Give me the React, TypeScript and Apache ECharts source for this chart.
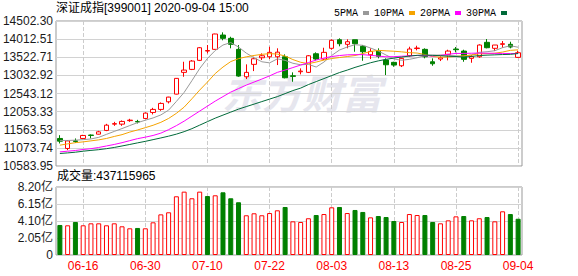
import React, { useEffect, useRef } from 'react';
import * as echarts from 'echarts';

const title = '深证成指[399001] 2020-09-04 15:00';
const volumeTitle = '成交量:437115965';
const watermark = '东方财富';
const maNames = ['5PMA', '10PMA', '20PMA', '30PMA'];

const dates = [
  '06-11', '06-12', '06-15', '06-16', '06-17', '06-18', '06-19', '06-22', '06-23', '06-24',
  '06-29', '06-30', '07-01', '07-02', '07-03', '07-06', '07-07', '07-08', '07-09', '07-10',
  '07-13', '07-14', '07-15', '07-16', '07-17', '07-20', '07-21', '07-22', '07-23', '07-24',
  '07-27', '07-28', '07-29', '07-30', '07-31', '08-03', '08-04', '08-05', '08-06', '08-07',
  '08-10', '08-11', '08-12', '08-13', '08-14', '08-17', '08-18', '08-19', '08-20', '08-21',
  '08-24', '08-25', '08-26', '08-27', '08-28', '08-31', '09-01', '09-02', '09-03', '09-04',
];

const opens = [
  11328, 11058, 11263, 11328, 11420, 11444, 11545, 11715, 11715, 11810,
  11788, 11869, 12031, 12113, 12319, 12527, 13114, 13195, 13439, 13690,
  13736, 14123, 14034, 13736, 12995, 13331, 13509, 13536, 13536, 13536,
  13022, 13131, 13114, 13617, 13474, 13764, 13996, 13872, 13996, 13818,
  13590, 13690, 13447, 13385, 13293, 13563, 13758, 13736, 13401, 13474,
  13601, 13745, 13690, 13493, 13536, 13926, 13764, 13872, 13872, 13520,
];
const closes = [
  11255, 11262, 11247, 11409, 11410, 11507, 11688, 11729, 11788, 11823,
  11774, 12013, 12113, 12275, 12446, 12952, 13176, 13420, 13780, 13704,
  14151, 14034, 13872, 13014, 13114, 13482, 13563, 13655, 13660, 12968,
  13006, 13149, 13563, 13474, 13655, 13980, 13888, 13942, 13888, 13672,
  13680, 13547, 13320, 13312, 13493, 13745, 13772, 13536, 13347, 13509,
  13690, 13726, 13466, 13536, 13853, 13780, 13853, 13888, 13799, 13645,
];
const lows = [
  11193, 11012, 11209, 11317, 11328, 11436, 11526, 11669, 11669, 11777,
  11734, 11851, 11978, 12075, 12275, 12519, 12995, 13176, 13420, 13628,
  13726, 13980, 13764, 12995, 12933, 13149, 13447, 13474, 13312, 12952,
  12860, 13060, 13096, 13439, 13447, 13726, 13818, 13764, 13672, 13428,
  13474, 13493, 13041, 13266, 13258, 13536, 13709, 13493, 13293, 13420,
  13439, 13655, 13401, 13374, 13509, 13764, 13690, 13780, 13764, 13509,
];
const highs = [
  11417, 11282, 11328, 11426, 11436, 11534, 11723, 11777, 11815, 11859,
  11831, 12031, 12156, 12302, 12454, 12960, 13401, 13447, 13799, 13853,
  14159, 14196, 14077, 13853, 13331, 13536, 13628, 13807, 13764, 13601,
  13114, 13222, 13582, 13655, 13780, 14007, 14034, 14007, 13996, 13853,
  13764, 13764, 13493, 13401, 13509, 13807, 13834, 13764, 13493, 13547,
  13726, 13799, 13726, 13582, 13872, 14015, 13853, 13961, 13942, 13699,
];

const volumes = [
  362000000, 358000000, 398000000, 358000000, 382000000, 382000000, 358000000, 382000000, 346000000, 322000000,
  326000000, 322000000, 394000000, 490000000, 515000000, 708000000, 764000000, 684000000, 764000000, 711000000,
  720000000, 756000000, 684000000, 636000000, 479000000, 503000000, 479000000, 506000000, 539000000, 579000000,
  406000000, 398000000, 443000000, 482000000, 494000000, 575000000, 579000000, 506000000, 543000000, 519000000,
  454000000, 470000000, 458000000, 410000000, 398000000, 494000000, 482000000, 482000000, 398000000, 382000000,
  418000000, 466000000, 470000000, 418000000, 443000000, 458000000, 406000000, 527000000, 494000000, 437115965,
];

const ma5 = [
  11274, 11274, 11282, 11296, 11315, 11358, 11439, 11518, 11596, 11677,
  11756, 11821, 11883, 11964, 12094, 12329, 12573, 12890, 13217, 13490,
  13704, 13853, 13920, 13799, 13634, 13509, 13401, 13371, 13479, 13439,
  13360, 13320, 13331, 13258, 13393, 13571, 13718, 13799, 13861, 13845,
  13772, 13690, 13582, 13477, 13442, 13466, 13509, 13571, 13580, 13582,
  13571, 13561, 13547, 13585, 13655, 13672, 13699, 13782, 13834, 13793,
];
const ma10 = [
  11147, 11182, 11214, 11236, 11263, 11290, 11328, 11382, 11431, 11501,
  11558, 11620, 11685, 11764, 11869, 12007, 12175, 12400, 12635, 12852,
  13082, 13258, 13406, 13485, 13534, 13571, 13601, 13620, 13609, 13555,
  13460, 13387, 13350, 13393, 13447, 13488, 13515, 13542, 13569, 13623,
  13677, 13709, 13696, 13685, 13669, 13647, 13636, 13596, 13542, 13525,
  13528, 13544, 13561, 13582, 13617, 13620, 13631, 13663, 13709, 13723,
];
const ma20 = [
  10966, 10984, 11003, 11030, 11052, 11085, 11125, 11166, 11214, 11269,
  11323, 11363, 11409, 11472, 11566, 11675, 11796, 11932, 12067, 12202,
  12337, 12459, 12581, 12676, 12770, 12852, 12933, 13019, 13114, 13176,
  13244, 13312, 13379, 13447, 13501, 13542, 13569, 13588, 13593, 13593,
  13574, 13555, 13534, 13539, 13550, 13561, 13571, 13566, 13555, 13574,
  13604, 13626, 13626, 13631, 13636, 13631, 13628, 13626, 13623, 13623,
];
const ma30 = [
  10922, 10938, 10957, 10984, 11006, 11025, 11052, 11085, 11125, 11166,
  11209, 11250, 11296, 11342, 11390, 11445, 11512, 11593, 11688, 11783,
  11877, 11959, 12040, 12121, 12189, 12256, 12324, 12392, 12459, 12540,
  12622, 12689, 12784, 12865, 12946, 13028, 13109, 13176, 13249, 13312,
  13374, 13425, 13466, 13501, 13528, 13555, 13574, 13582, 13574, 13566,
  13550, 13542, 13528, 13544, 13569, 13580, 13588, 13596, 13601, 13623,
];

const priceTickLabels = [
  '10583.95', '11073.74', '11563.53', '12053.33', '12543.12',
  '13032.92', '13522.71', '14012.51', '14502.30',
];
const priceMin = 10583.95;
const priceMax = 14502.3;
const volumeTickLabels = ['0', '2.05亿', '4.10亿', '6.15亿', '8.20亿'];
const volumeMax = 820000000;

const RED = '#ff0000';
const GREEN = '#008000';
const MA_COLORS = ['#999999', '#f5a300', '#ff00ff', '#006a3a'];
const FONT = '"Liberation Sans", "Noto Sans CJK SC", sans-serif';
const CJK = '"Noto Sans CJK SC", sans-serif';

export default function App() {
  const ref = useRef<HTMLDivElement>(null);

  useEffect(() => {
    document.body.style.margin = '0';
    const chart = echarts.init(ref.current as HTMLDivElement, null, { renderer: 'svg' });

    const labelEvery = (i: number) => i % 8 === 3;
    const candles = dates.map((_, i) => [opens[i], closes[i], lows[i], highs[i]]);
    const volData = volumes.map((v, i) => {
      const up = i === 0 ? closes[0] >= opens[0] : closes[i] >= closes[i - 1];
      return {
        value: v,
        itemStyle: up
          ? { color: '#ffffff', borderColor: RED, borderWidth: 1 }
          : { color: GREEN, borderColor: GREEN, borderWidth: 1 },
      };
    });
    const maData = [ma5, ma10, ma20, ma30];

    const splitX = {
      show: true,
      interval: (i: number) => labelEvery(i),
      alignWithLabel: true,
      lineStyle: { type: 'dashed', color: '#cccccc', width: 1 },
    };

    const option: any = {
      animation: false,
      backgroundColor: '#ffffff',
      textStyle: { fontFamily: FONT },
      legend: {
        data: maNames.map((name) => ({ name, icon: 'rect' })),
        right: 66,
        top: 3,
        align: 'right',
        itemWidth: 6,
        itemHeight: 4,
        itemGap: 5,
        selectedMode: false,
        textStyle: { fontFamily: '"Liberation Mono", monospace', fontSize: 10, color: '#000' },
      },
      grid: [
        { left: 56, top: 21, width: 466, height: 145, show: true, borderColor: '#999999', borderWidth: 1, backgroundColor: 'transparent', outerBoundsMode: 'none' },
        { left: 56, top: 187, width: 466, height: 68, show: true, borderColor: '#999999', borderWidth: 1, backgroundColor: 'transparent', outerBoundsMode: 'none' },
      ],
      xAxis: [
        {
          gridIndex: 0, type: 'category', data: dates, boundaryGap: true,
          axisLabel: { show: false }, axisTick: { show: false }, axisLine: { show: false },
          splitLine: splitX,
        },
        {
          gridIndex: 1, type: 'category', data: dates, boundaryGap: true,
          axisLabel: { show: true, interval: (i: number) => labelEvery(i), color: RED, fontSize: 12, margin: 5, fontFamily: FONT },
          axisTick: { show: false }, axisLine: { show: false },
          splitLine: splitX,
        },
      ],
      yAxis: [
        {
          gridIndex: 0, type: 'value', min: 0, max: priceTickLabels.length - 1, interval: 1,
          axisLabel: {
            formatter: (v: number) => priceTickLabels[Math.round(v)] ?? '',
            margin: 3, color: '#1a1a1a', fontSize: 12, fontFamily: FONT,
          },
          axisTick: { show: false }, axisLine: { show: false },
          splitLine: { show: true, lineStyle: { color: '#d2d2d2', width: 1 } },
        },
        {
          gridIndex: 0, type: 'value', min: priceMin, max: priceMax, show: false,
          splitLine: { show: false },
        },
        {
          gridIndex: 1, type: 'value', min: 0, max: volumeMax, interval: volumeMax / 4,
          axisLabel: {
            formatter: (v: number) => volumeTickLabels[Math.round(v / (volumeMax / 4))] ?? '',
            margin: 3, color: '#1a1a1a', fontSize: 12, fontFamily: FONT,
          },
          axisTick: { show: false }, axisLine: { show: false },
          splitLine: { show: true, lineStyle: { color: '#d2d2d2', width: 1 } },
        },
      ],
      graphic: [
        {
          type: 'text', left: 222, top: 72, z: 0, silent: true,
          style: { text: watermark, fontSize: 40, fontWeight: 'bold', fontStyle: 'italic', fill: '#e6e6ee', fontFamily: CJK },
        },
        {
          type: 'text', left: 56, top: 2,
          style: { text: title, fontSize: 12, fill: '#000', fontFamily: FONT },
        },
        {
          type: 'text', left: 57, top: 170,
          style: { text: volumeTitle, fontSize: 12, fill: '#000', fontFamily: FONT },
        },
      ],
      series: [
        {
          type: 'candlestick', name: 'K', xAxisIndex: 0, yAxisIndex: 1, data: candles,
          barWidth: 5,
          itemStyle: { color: '#ffffff', color0: GREEN, borderColor: RED, borderColor0: GREEN, borderWidth: 1 },
        },
        ...maNames.map((name, k) => ({
          type: 'line', name, xAxisIndex: 0, yAxisIndex: 1, data: maData[k],
          color: MA_COLORS[k], symbol: 'none', showSymbol: false, z: 3,
          lineStyle: { width: 1, color: MA_COLORS[k] },
        })),
        {
          type: 'bar', name: 'VOL', xAxisIndex: 1, yAxisIndex: 2, data: volData, barWidth: 5,
        },
      ],
    };

    chart.setOption(option);
    return () => chart.dispose();
  }, []);

  return <div ref={ref} style={{ width: 578, height: 276 }} />;
}
